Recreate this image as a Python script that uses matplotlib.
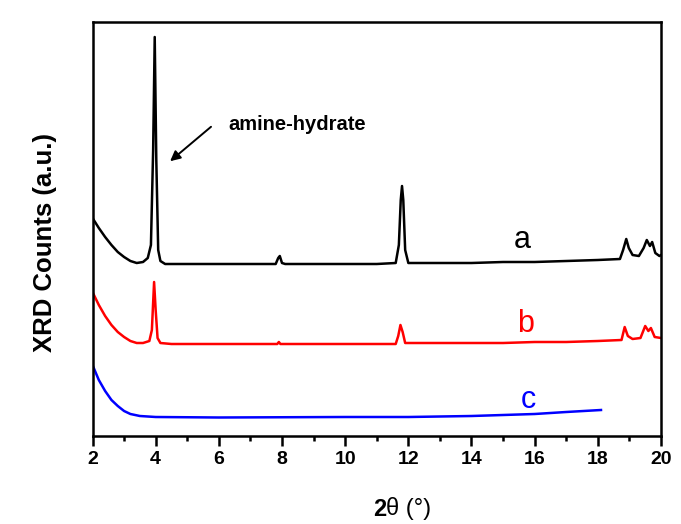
import matplotlib
matplotlib.use('Agg')
import matplotlib.pyplot as plt
from matplotlib.ticker import MultipleLocator

plt.rcParams['font.family'] = ['Liberation Sans', 'DejaVu Sans']

# 曲线 a（黑色）
xa = [2.0, 2.2, 2.4, 2.6, 2.8, 3.0, 3.2, 3.4, 3.6, 3.75, 3.85, 3.92, 3.97, 4.02, 4.08, 4.15, 4.3,
      5.0, 6.0, 7.0, 7.8, 7.88, 7.93, 8.0, 8.1, 9.0, 10.0, 11.0, 11.6, 11.7, 11.76, 11.8, 11.84,
      11.9, 12.0, 13.0, 14.0, 15.0, 16.0, 17.0, 18.0, 18.7, 18.8, 18.9, 18.98, 19.1, 19.3, 19.45,
      19.55, 19.65, 19.72, 19.82, 19.95, 20.0]
ya = [214, 204, 195, 187, 180, 175, 171, 169, 170, 174, 187, 282, 395, 272, 182, 171, 168,
      168, 168, 168, 168, 174, 176, 169, 168, 168, 168, 168, 169, 187, 232, 246, 232,
      182, 169, 169, 169, 170, 170, 171, 172, 173, 182, 193, 184, 177, 176, 184,
      192, 186, 190, 179, 176, 177]

# 曲线 b（红色）
xb = [2.0, 2.2, 2.4, 2.6, 2.8, 3.0, 3.2, 3.4, 3.6, 3.8, 3.88, 3.95, 4.0, 4.06, 4.15, 4.5,
      6.0, 7.85, 7.9, 7.95, 10.0, 11.6, 11.68, 11.75, 11.82, 11.9, 13.0, 15.0, 16.0, 17.0, 18.0,
      18.75, 18.85, 18.95, 19.1, 19.35, 19.5, 19.6, 19.68, 19.8, 20.0]
yb = [140, 127, 116, 107, 100, 95, 91, 89, 89, 91, 102, 150, 122, 94, 89, 88,
      88, 88, 90, 88, 88, 88, 96, 107, 100, 89, 89, 89, 90, 90, 91,
      92, 105, 96, 93, 94, 106, 101, 104, 95, 94]

# 曲线 c（蓝色）
xc = [2.0, 2.2, 2.4, 2.6, 2.8, 3.0, 3.2, 3.5, 4.0, 6.0, 10.0, 12.0, 14.0, 16.0, 17.0, 18.1]
yc = [67, 52, 41, 32, 26, 21, 18, 16, 15, 14.5, 15, 15, 16, 18, 20, 22]

fig = plt.figure(figsize=(6.81, 5.24), dpi=100)
ax = fig.add_axes([92.5 / 681, 88 / 524, 568.5 / 681, 414 / 524])

ax.plot(xa, ya, color='black', lw=1.8)
ax.plot(xb, yb, color='red', lw=1.8)
ax.plot(xc, yc, color='blue', lw=1.8)

ax.set_xlim(2, 20)
ax.set_ylim(-4, 410)
ax.xaxis.set_major_locator(MultipleLocator(2))
ax.xaxis.set_minor_locator(MultipleLocator(1))
ax.set_yticks([])
ax.tick_params(axis='x', which='major', direction='out', length=7, width=1.8, labelsize=14, pad=4)
ax.tick_params(axis='x', which='minor', direction='out', length=3.5, width=1.8)
for lab in ax.get_xticklabels():
    lab.set_fontweight('bold')
for sp in ax.spines.values():
    sp.set_linewidth(1.8)

# 曲线标注
ax.text(15.6, 184, 'a', color='black', fontsize=22, ha='center', va='baseline')
ax.text(15.7, 100, 'b', color='red', fontsize=22, ha='center', va='baseline')
ax.text(15.8, 24, 'c', color='blue', fontsize=22, ha='center', va='baseline')

ax.annotate('', xy=(4.39, 269), xytext=(5.82, 307),
            arrowprops=dict(arrowstyle='-|>', color='black', lw=1.4, mutation_scale=15))
ax.text(6.29, 307, 'amine-hydrate', fontsize=14.5, fontweight='bold', ha='left', va='center')

# 坐标轴标题
fig.text(45 / 681, 1 - 243 / 524, 'XRD Counts (a.u.)', rotation=90, fontsize=18.5,
         fontweight='bold', ha='center', va='center')
fig.text(386 / 681, 1 - 509 / 524, '2', fontsize=17, fontweight='bold', ha='right', va='center')
fig.text(386 / 681, 1 - 509 / 524, 'θ (°)', fontsize=17, ha='left', va='center')

fig.savefig('out.png', dpi=100)
